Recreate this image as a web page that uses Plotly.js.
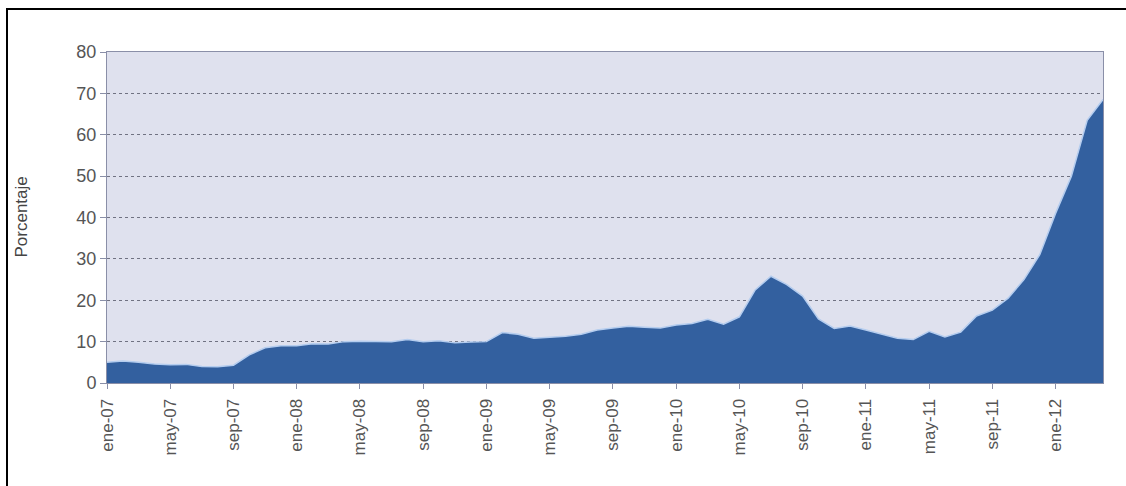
<!DOCTYPE html>
<html>
<head>
<meta charset="utf-8">
<script src="https://cdn.plot.ly/plotly-3.0.1.min.js"></script>
<style>
  html, body { margin: 0; padding: 0; background: #ffffff; }
  #wrap { position: relative; width: 1126px; height: 486px; overflow: hidden; }
  #chart { position: absolute; left: 0; top: 0; width: 1126px; height: 486px; }
  #frame { position: absolute; left: 6px; top: 8px; width: 1200px; height: 600px;
           border-left: 2px solid #000; border-top: 2px solid #000; pointer-events: none; }
</style>
</head>
<body>
<div id="wrap">
  <div id="chart"></div>
  <div id="frame"></div>
</div>
<script>
// Months from ene-07 to abr-12
const months = [
  'ene-07','feb-07','mar-07','abr-07','may-07','jun-07','jul-07','ago-07','sep-07','oct-07','nov-07','dic-07',
  'ene-08','feb-08','mar-08','abr-08','may-08','jun-08','jul-08','ago-08','sep-08','oct-08','nov-08','dic-08',
  'ene-09','feb-09','mar-09','abr-09','may-09','jun-09','jul-09','ago-09','sep-09','oct-09','nov-09','dic-09',
  'ene-10','feb-10','mar-10','abr-10','may-10','jun-10','jul-10','ago-10','sep-10','oct-10','nov-10','dic-10',
  'ene-11','feb-11','mar-11','abr-11','may-11','jun-11','jul-11','ago-11','sep-11','oct-11','nov-11','dic-11',
  'ene-12','feb-12','mar-12','abr-12'
];
// Porcentaje
const porcentaje = [
  5.0, 5.3, 5.0, 4.6, 4.4, 4.5, 4.0, 3.9, 4.3, 6.8, 8.5, 9.0,
  9.0, 9.5, 9.4, 10.0, 10.1, 10.0, 10.0, 10.5, 10.0, 10.2, 9.7, 9.9,
  10.0, 12.2, 11.8, 10.8, 11.0, 11.3, 11.8, 12.8, 13.3, 13.7, 13.5, 13.3,
  14.0, 14.4, 15.4, 14.2, 16.0, 22.5, 25.8, 23.8, 21.0, 15.5, 13.2, 13.8,
  12.8, 11.8, 10.8, 10.5, 12.5, 11.1, 12.3, 16.2, 17.6, 20.5, 25.0, 31.0,
  41.0, 50.0, 63.5, 68.5
];
const tickLabels = ['ene-07','may-07','sep-07','ene-08','may-08','sep-08','ene-09','may-09',
  'sep-09','ene-10','may-10','sep-10','ene-11','may-11','sep-11','ene-12'];
const yTitle = 'Porcentaje';

const trace = {
  x: months,
  y: porcentaje,
  type: 'scatter',
  mode: 'lines',
  fill: 'tozeroy',
  fillcolor: '#33609f',
  line: { color: '#b5cdef', width: 1.5, shape: 'linear' },
  hoverinfo: 'x+y'
};

const layout = {
  width: 1126,
  height: 486,
  margin: { l: 107, r: 23, t: 52, b: 103, pad: 0 },
  paper_bgcolor: '#ffffff',
  plot_bgcolor: '#dfe1ee',
  showlegend: false,
  font: { family: 'Liberation Sans, Arial, sans-serif', color: '#555555' },
  xaxis: {
    type: 'category',
    range: [0, months.length - 1],
    tickmode: 'array',
    tickvals: tickLabels,
    ticktext: tickLabels,
    tickangle: -90,
    tickfont: { size: 17, color: '#555555', family: 'Liberation Sans, Arial, sans-serif' },
    ticks: 'outside',
    ticklen: 5,
    tickcolor: '#8a8fa8',
    ticklabelstandoff: 3,
    showgrid: false,
    zeroline: false,
    showline: true,
    linecolor: '#8a8fa8',
    linewidth: 1,
    mirror: true
  },
  yaxis: {
    range: [0, 80],
    dtick: 10,
    tick0: 0,
    tickfont: { size: 18, color: '#555555', family: 'Liberation Sans, Arial, sans-serif' },
    ticks: 'outside',
    ticklen: 6,
    tickcolor: '#8a8fa8',
    showgrid: true,
    gridcolor: '#707282',
    gridwidth: 1,
    griddash: '3px,3px',
    zeroline: false,
    showline: true,
    linecolor: '#8a8fa8',
    linewidth: 1,
    mirror: true
  },
  annotations: [{
    text: yTitle,
    xref: 'paper', yref: 'paper',
    x: (21 - 107) / 996, y: 0.5,
    xanchor: 'center', yanchor: 'middle',
    textangle: -90,
    showarrow: false,
    font: { size: 17, color: '#444444', family: 'Liberation Sans, Arial, sans-serif' }
  }]
};

Plotly.newPlot('chart', [trace], layout, { staticPlot: true, displayModeBar: false });
</script>
</body>
</html>
